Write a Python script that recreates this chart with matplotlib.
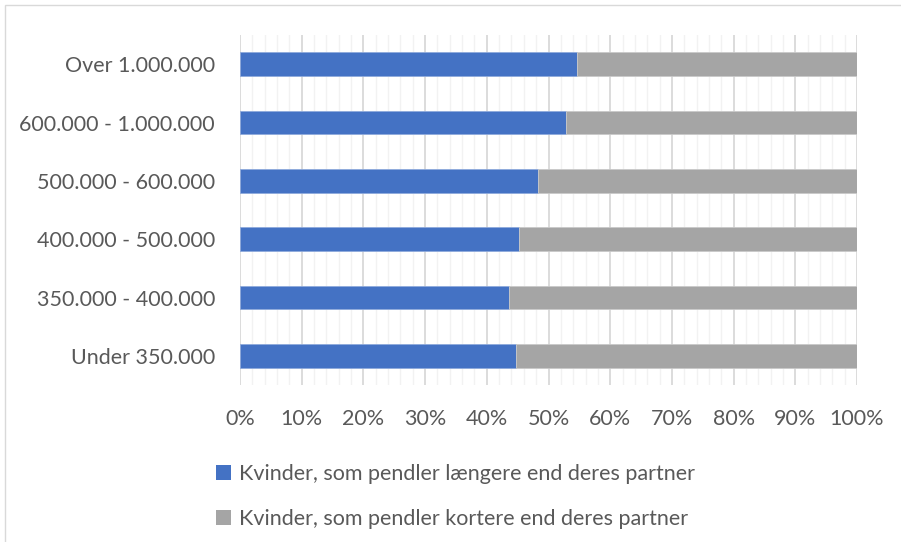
import matplotlib
matplotlib.use("Agg")
import matplotlib.pyplot as plt
from matplotlib.patches import Rectangle, Patch
from matplotlib.ticker import MultipleLocator, FuncFormatter

#--------------------------------------#
# data #

categories = ["Under 350.000", "350.000 - 400.000", "400.000 - 500.000",
              "500.000 - 600.000", "600.000 - 1.000.000", "Over 1.000.000"]
longer = [44.7, 43.6, 45.2, 48.3, 52.8, 54.6]
shorter = [100 - v for v in longer]
series_names = ["Kvinder, som pendler længere end deres partner",
                "Kvinder, som pendler kortere end deres partner"]

blue = "#4472C4"
grey = "#A5A5A5"
text_col = "#595959"

plt.rcParams["font.family"] = ["Lato", "DejaVu Sans"]

fig = plt.figure(figsize=(9.01, 5.42), dpi=100)
ax = fig.add_axes([240 / 901, 1 - 385 / 542, 617 / 901, 350 / 542])

y = range(len(categories))
ax.barh(y, longer, height=0.41, color=blue, edgecolor="#8FAADC", linewidth=0.6, zorder=3)
ax.barh(y, shorter, left=longer, height=0.41, color=grey, edgecolor="#C9C9C9", linewidth=0.6, zorder=3)

ax.set_xlim(0, 100)
ax.set_ylim(-0.5, len(categories) - 0.5)
ax.set_yticks(list(y))
ax.set_yticklabels(categories)

ax.xaxis.set_major_locator(MultipleLocator(10))
ax.xaxis.set_minor_locator(MultipleLocator(2))
ax.xaxis.set_major_formatter(FuncFormatter(lambda v, p: f"{v:.0f}%"))
ax.grid(which="major", axis="x", color="#D9D9D9", linewidth=1.3, zorder=0)
ax.grid(which="minor", axis="x", color="#F2F2F2", linewidth=1.0, zorder=0)

for s in ax.spines.values():
    s.set_visible(False)
ax.tick_params(which="both", length=0)
ax.tick_params(axis="x", pad=17, labelsize=15.5, labelcolor=text_col)
ax.tick_params(axis="y", pad=18, labelsize=15.5, labelcolor=text_col)

handles = [Patch(facecolor=blue), Patch(facecolor=grey)]
fig.legend(handles, series_names, loc="upper left", bbox_to_anchor=(197 / 901, 1 - 445 / 542),
           frameon=False, fontsize=15.5, labelcolor=text_col, handlelength=0.7, handleheight=0.7,
           handletextpad=0.35, labelspacing=1.15)

# chart area border
fig.patches.append(Rectangle((5 / 901, -0.1), 1.2, 1 - 5 / 542 + 0.1, transform=fig.transFigure,
                             fill=False, edgecolor="#D9D9D9", linewidth=1.0))

fig.savefig("out.png", dpi=100)
